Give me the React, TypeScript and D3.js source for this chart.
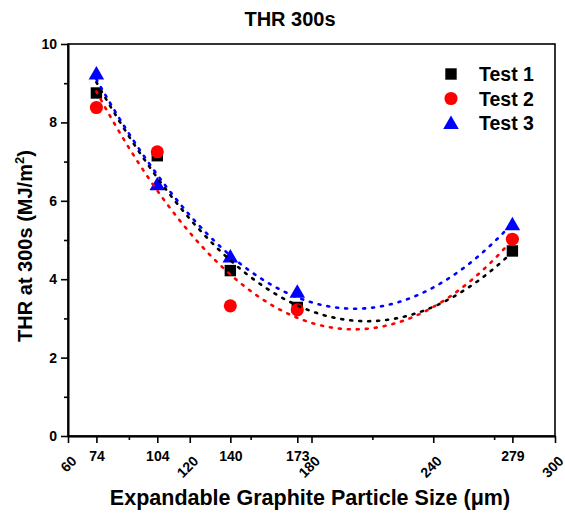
import React, { useRef, useEffect } from 'react';
import * as d3 from 'd3';

// particle sizes (µm) and THR at 300 s for each test
const sizes = [74, 104, 140, 173, 279];
const test1 = [8.75, 7.15, 4.22, 3.28, 4.72];
const test2 = [8.38, 7.25, 3.32, 3.22, 5.02];
const test3 = [9.25, 6.42, 4.58, 3.68, 5.4];

const seriesNames = ['Test 1', 'Test 2', 'Test 3'];
const seriesColors = ['#000000', '#ff0000', '#0000ff'];

const xRotatedTicks = [60, 120, 180, 240, 300];
const xMinorTicks = [90, 150, 210, 270];
const yMajorTicks = [0, 2, 4, 6, 8, 10];
const yMinorTicks = [1, 3, 5, 7, 9];

// least squares 2nd order polynomial, like the fit curves in the original
const quadFit = (xs: number[], ys: number[]) => {
  const s = [0, 0, 0, 0, 0];
  const t = [0, 0, 0];
  xs.forEach((x, i) => {
    for (let k = 0; k < 5; k++) s[k] += Math.pow(x, k);
    for (let k = 0; k < 3; k++) t[k] += ys[i] * Math.pow(x, k);
  });
  const m = [
    [s[0], s[1], s[2], t[0]],
    [s[1], s[2], s[3], t[1]],
    [s[2], s[3], s[4], t[2]],
  ];
  for (let c = 0; c < 3; c++) {
    for (let r = c + 1; r < 3; r++) {
      const f = m[r][c] / m[c][c];
      for (let k = c; k < 4; k++) m[r][k] -= f * m[c][k];
    }
  }
  const b = [0, 0, 0];
  for (let r = 2; r >= 0; r--) {
    let v = m[r][3];
    for (let k = r + 1; k < 3; k++) v -= m[r][k] * b[k];
    b[r] = v / m[r][r];
  }
  return (x: number) => b[0] + b[1] * x + b[2] * x * x;
};

const App = () => {
  const chartRef = useRef<SVGSVGElement | null>(null);

  useEffect(() => {
    document.body.style.margin = '0';
    const width = 565;
    const height = 513;
    const left = 68, right = 555, top = 44, bottom = 436;
    const font = 'Liberation Sans, Arial, sans-serif';

    const svg = d3.select(chartRef.current);
    svg.selectAll('*').remove();
    svg.attr('width', width).attr('height', height);

    const x = d3.scaleLinear().domain([60, 300]).range([left, right]);
    const y = d3.scaleLinear().domain([0, 10]).range([bottom, top]);

    // frame
    svg.append('rect')
      .attr('x', left).attr('y', top)
      .attr('width', right - left).attr('height', bottom - top)
      .attr('fill', 'none').attr('stroke', '#000').attr('stroke-width', 1.6);

    // x axis: data ticks with flat labels
    const xAxisData = svg.append('g')
      .attr('transform', `translate(0,${bottom})`)
      .call(d3.axisBottom(x).tickValues(sizes).tickSize(7).tickSizeOuter(0).tickPadding(8).tickFormat(d3.format('d')));
    // x axis: round ticks with rotated labels
    const xAxisRound = svg.append('g')
      .attr('transform', `translate(0,${bottom})`)
      .call(d3.axisBottom(x).tickValues(xRotatedTicks).tickSize(7).tickSizeOuter(0).tickFormat(d3.format('d')));
    xAxisRound.selectAll('text')
      .attr('text-anchor', 'end')
      .attr('x', 0).attr('y', 0).attr('dy', 0)
      .attr('transform', 'translate(9,26) rotate(-45)');
    const xMinor = svg.append('g')
      .attr('transform', `translate(0,${bottom})`)
      .call(d3.axisBottom(x).tickValues(xMinorTicks).tickSize(4).tickSizeOuter(0).tickFormat(() => ''));

    const yAxis = svg.append('g')
      .attr('transform', `translate(${left},0)`)
      .call(d3.axisLeft(y).tickValues(yMajorTicks).tickSize(7).tickSizeOuter(0).tickPadding(4).tickFormat(d3.format('d')));
    const yMinor = svg.append('g')
      .attr('transform', `translate(${left},0)`)
      .call(d3.axisLeft(y).tickValues(yMinorTicks).tickSize(4).tickSizeOuter(0).tickFormat(() => ''));

    [xAxisData, xAxisRound, xMinor, yAxis, yMinor].forEach(g => {
      g.select('.domain').attr('stroke-width', 1.6);
      g.selectAll('line').attr('stroke-width', 1.6);
      g.selectAll('text')
        .attr('font-family', font)
        .attr('font-size', 14)
        .attr('font-weight', 'bold')
        .attr('fill', '#000');
    });

    // titles
    svg.append('text')
      .attr('x', 290).attr('y', 26)
      .attr('text-anchor', 'middle')
      .attr('font-family', font).attr('font-size', 20).attr('font-weight', 'bold')
      .text('THR 300s');

    svg.append('text')
      .attr('x', 310).attr('y', 505)
      .attr('text-anchor', 'middle')
      .attr('font-family', font).attr('font-size', 21.5).attr('font-weight', 'bold')
      .text('Expandable Graphite Particle Size (\u03bcm)');

    const yLabel = svg.append('text')
      .attr('transform', `translate(32,246) rotate(-90)`)
      .attr('text-anchor', 'middle')
      .attr('font-family', font).attr('font-size', 20).attr('font-weight', 'bold');
    yLabel.append('tspan').text('THR at 300s (MJ/m');
    yLabel.append('tspan').attr('font-size', 13).attr('dy', -8).text('2');
    yLabel.append('tspan').attr('dy', 8).text(')');

    const series = [test1, test2, test3];
    const square = d3.symbol().type(d3.symbolSquare).size(130);
    const circle = d3.symbol().type(d3.symbolCircle).size(135);
    const triangle = d3.symbol().type(d3.symbolTriangle).size(105);
    const shapes = [square, circle, triangle];

    // markers
    series.forEach((vals, si) => {
      svg.append('g')
        .selectAll('path')
        .data(vals)
        .enter().append('path')
        .attr('transform', (d, i) => `translate(${x(sizes[i])},${y(d) + (si === 2 ? 1.5 : 0)})`)
        .attr('d', shapes[si]())
        .attr('fill', seriesColors[si]);
    });

    // dotted fit curves
    const line = d3.line<[number, number]>()
      .x(d => x(d[0]))
      .y(d => y(d[1]))
      .curve(d3.curveBasis);
    series.forEach((vals, si) => {
      const f = quadFit(sizes, vals);
      const pts: [number, number][] = d3.range(sizes[0], sizes[sizes.length - 1] + 0.5, 1)
        .map(v => [v, f(v)]);
      svg.append('path')
        .attr('d', line(pts))
        .attr('fill', 'none')
        .attr('stroke', seriesColors[si])
        .attr('stroke-width', 2.6)
        .attr('stroke-linecap', 'round')
        .attr('stroke-dasharray', '2,7');
    });

    // legend
    const legend = svg.append('g').attr('transform', 'translate(451,74)');
    seriesNames.forEach((name, i) => {
      const g = legend.append('g').attr('transform', `translate(0,${i * 24.5})`);
      g.append('path')
        .attr('transform', i === 2 ? 'translate(0,1.5)' : null)
        .attr('d', shapes[i]())
        .attr('fill', seriesColors[i]);
      g.append('text')
        .attr('x', 28).attr('y', 7)
        .attr('font-family', font).attr('font-size', 19.5).attr('font-weight', 'bold')
        .text(name);
    });
  }, []);

  return <svg ref={chartRef} style={{ display: 'block' }}></svg>;
};

export default App;
